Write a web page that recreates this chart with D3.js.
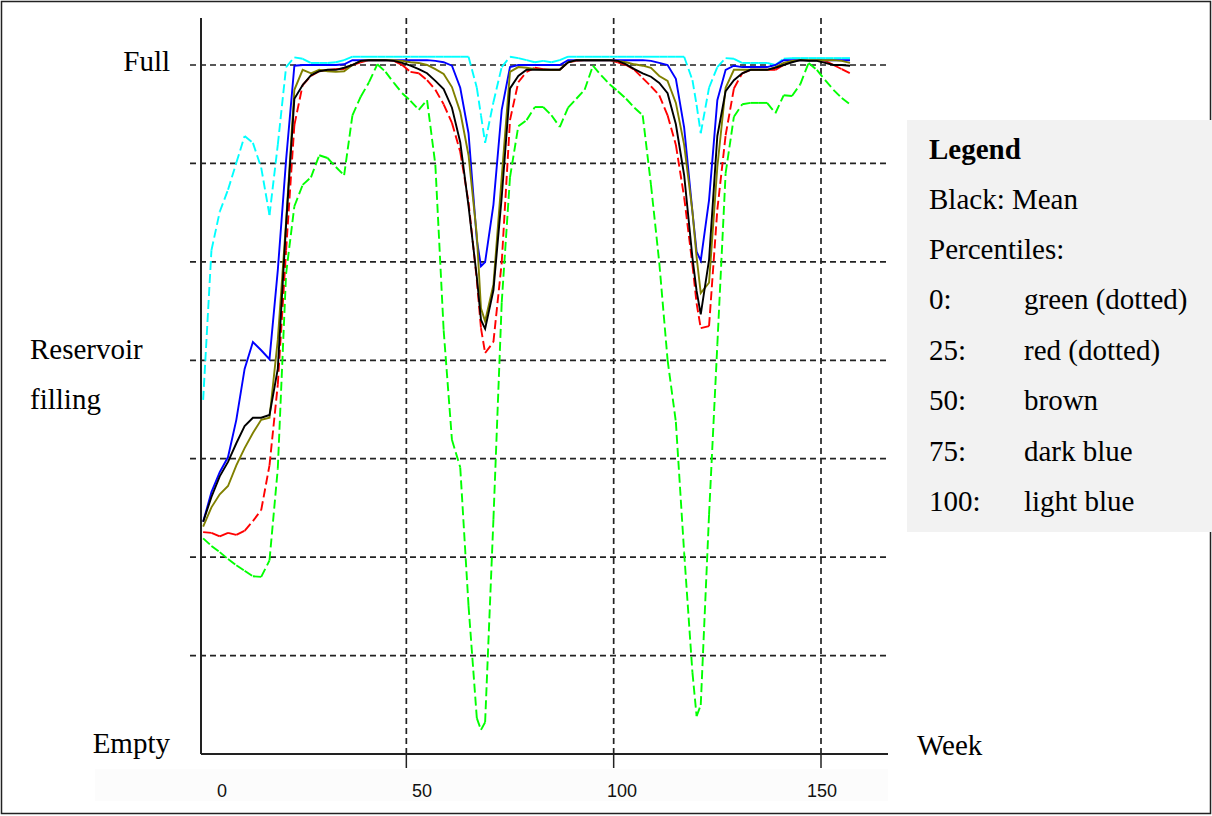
<!DOCTYPE html>
<html>
<head>
<meta charset="utf-8">
<script src="https://cdn.jsdelivr.net/npm/d3@7"></script>
<style>
  body { margin: 0; background: #fff; }
  svg { display: block; }
  .serif { font-family: "Liberation Serif", "Times New Roman", serif; font-size: 29px; fill: #000; }
  .tick-label { font-family: "Liberation Sans", Arial, sans-serif; font-size: 18px; fill: #111; }
</style>
</head>
<body>
<svg id="chart"></svg>
<script>
// weeks sampled every second week (plus the two dip bottoms)
const weeks = [1,3,5,7,9,11,13,15,17,19,21,23,25,27,29,31,33,35,37,39,41,43,45,47,49,51,53,55,57,59,61,63,65,
  67,68,69,71,73,75,77,79,81,83,85,87,89,91,93,95,97,99,101,103,105,107,109,111,113,115,117,119,120,
  121,123,125,127,129,131,133,135,137,139,141,143,145,147,149,151,153,155,157];

// reservoir filling in % (0 = empty, 100 = full)
const meanFill = [33.7,37.3,40.3,42.4,45.1,47.6,48.8,48.8,49.2,55.9,76.8,95.1,97.1,98.5,99.1,99.3,99.3,99.6,100,100.6,100.7,100.7,100.7,100.6,100.3,99.9,99.4,98.8,97.7,96.5,93.8,88.8,79.5,
  69.2,63.0,61.7,67.3,80.8,96.6,98.4,99.3,99.3,99.3,99.3,99.3,100.4,100.7,100.7,100.7,100.7,100.7,100.6,100.1,99.4,98.8,98.3,97.4,95.9,91.4,84.0,72.0,67.2,
  63.8,71.7,89.7,96.2,97.8,98.8,99.3,99.3,99.3,99.6,100,100.4,100.7,100.6,100.6,100.3,100,100,99.9];

const p0 = [31.3,30.2,29.3,28.3,27.4,26.6,25.8,25.7,28.1,41.4,69.7,79.5,82.6,83.7,86.9,86.5,85.2,84.0,92.7,95.4,97.5,100.1,99.0,97.4,95.9,94.8,93.5,94.9,85.5,61.5,45.6,41.6,21.5,
  5.2,3.5,4.6,34.0,65.5,83.7,91.1,92.0,93.9,93.9,92.7,91.0,93.8,95.1,96.4,99.9,98.5,97.2,96.2,95.1,93.8,92.7,82.6,71.3,57.2,48.2,29.2,11.8,5.5,
  7.1,34.7,59.4,84.3,92.5,94.3,94.5,94.5,94.5,93.0,95.6,95.5,97.2,100.3,99.3,97.8,96.4,95.2,94.3];

const p25 = [32.2,32.1,31.6,32.1,31.8,32.4,33.8,35.4,41.9,53.6,73.1,91.3,97.1,98.4,99.1,99.3,99.4,99.4,100,100.4,100.7,100.7,100.7,100.6,100,99.0,98.8,97.8,96.4,94.3,91.6,87.4,80.1,
  68.8,61.8,58.2,59.8,71.3,92.0,97.5,99.0,99.6,99.4,99.3,99.3,100.4,100.6,100.7,100.7,100.7,100.7,100.4,100,99.3,98.1,96.9,95.6,92.7,88.4,80.8,71.0,65.4,
  61.8,62.1,79.0,89.8,96.6,98.8,99.3,99.3,99.3,99.3,100,100.6,100.7,100.7,100.7,100.6,100,99.4,98.8];

const p50 = [33.0,35.8,37.7,38.9,41.9,44.4,46.6,48.5,48.8,60.1,77.2,96.4,99.3,98.8,99.3,99.1,99.0,99.1,100,100.6,100.7,100.7,100.7,100.7,100.6,100.4,100.3,100,99.4,98.7,96.8,93.2,86.9,
  75.3,64.7,62.8,68.1,83.7,99.0,99.7,99.6,99.4,99.3,99.3,99.3,100.4,100.7,100.7,100.7,100.7,100.7,100.6,100.4,100.1,99.9,99.6,98.4,97.7,94.5,88.4,78.7,72.1,
  66.9,68.4,85.2,96.7,99.3,99.3,99.3,99.3,99.3,99.7,100.3,100.6,100.7,100.7,100.7,100.7,100.7,100.6,100.3];

const p75 = [33.7,38.0,40.9,43.1,48.5,55.9,59.8,58.6,57.3,70.2,86.2,99.9,100,100,100,100,100,100.1,100.7,100.7,100.7,100.7,100.7,100.7,100.7,100.7,100.7,100.7,100.6,100.4,99.9,96.7,90.1,
  74.6,70.8,71.4,79.7,93.5,99.7,100,100,100,100,100,100,100.7,100.7,100.7,100.7,100.7,100.7,100.7,100.7,100.7,100.7,100.6,100.3,100,98.0,90.9,78.7,72.9,
  71.6,80.4,94.9,99.3,99.9,99.7,99.7,99.7,99.7,100,100.7,100.7,100.7,100.7,100.7,100.7,100.7,100.7,100.7];

const p100 = [51.4,73.1,78.7,81.9,85.8,89.7,88.7,85.1,78.2,88.4,99.7,101.1,100.9,100.3,100.3,100.3,100.4,100.7,101.2,101.2,101.2,101.2,101.2,101.2,101.2,101.2,101.2,101.2,101.2,101.2,101.2,101.2,101.2,
  96.7,92.7,88.7,94.6,99.7,101.2,101.0,100.7,100.4,100.6,100.4,100.7,101.2,101.2,101.2,101.2,101.2,101.2,101.2,101.2,101.2,101.2,101.2,101.2,101.2,101.2,101.2,97.8,94.2,
  90.1,96.7,99.7,101.0,100.9,100.3,100.3,100.3,100.3,100.0,100.9,101.0,101.0,101.0,101.0,101.0,101.0,101.0,101.0];

const xTicks = [0, 50, 100, 150];
const gridCount = 7; // horizontal grid divisions between Empty and Full

const legendTitle = "Legend";
const legendMean = "Black: Mean";
const legendSub = "Percentiles:";
const legendKeys = ["0:", "25:", "50:", "75:", "100:"];
const legendNames = ["green (dotted)", "red (dotted)", "brown", "dark blue", "light blue"];

// drawing order: dotted ones first, mean last
const series = [
  { values: p0, color: "#00ff00", dashed: true },
  { values: p100, color: "#00ffff", dashed: true },
  { values: p25, color: "#ff0000", dashed: true },
  { values: p75, color: "#0000ff", dashed: false },
  { values: p50, color: "#808000", dashed: false },
  { values: meanFill, color: "#000000", dashed: false }
];

const width = 1212, height = 816;
const axisLeft = 201, axisTop = 18, plotRight = 888;

const svg = d3.select("#chart").attr("width", width).attr("height", height);

const x = d3.scaleLinear().domain([0, 150]).range([199, 821]);
const y = d3.scaleLinear().domain([0, 100]).range([754, 65]);
// the week numbers sit in a separate strip, slightly shifted
const xLabel = d3.scaleLinear().domain([0, 150]).range([222, 822]);

// outer frame
svg.append("rect")
  .attr("x", 1.5).attr("y", 1.5)
  .attr("width", width - 3).attr("height", height - 4)
  .attr("fill", "none").attr("stroke", "#222").attr("stroke-width", 1.5);

// strip behind the week numbers
svg.append("rect")
  .attr("x", 95).attr("y", 769).attr("width", plotRight - 95).attr("height", 32)
  .attr("fill", "#fcfcfc");

// horizontal grid
const gridVals = d3.range(1, gridCount + 1).map(i => i * 100 / gridCount);
svg.append("g").selectAll("line")
  .data(gridVals)
  .join("line")
  .attr("x1", 190).attr("x2", plotRight)
  .attr("y1", d => y(d)).attr("y2", d => y(d))
  .attr("stroke", "#222").attr("stroke-width", 1.7)
  .attr("stroke-dasharray", "6,4");

// vertical grid + bottom ticks
const vGrid = svg.append("g");
vGrid.selectAll("line.v")
  .data(xTicks.slice(1))
  .join("line")
  .attr("class", "v")
  .attr("x1", d => x(d)).attr("x2", d => x(d))
  .attr("y1", axisTop).attr("y2", y(0))
  .attr("stroke", "#222").attr("stroke-width", 1.7)
  .attr("stroke-dasharray", "6,4");
vGrid.selectAll("line.t")
  .data(xTicks.slice(1))
  .join("line")
  .attr("class", "t")
  .attr("x1", d => x(d)).attr("x2", d => x(d))
  .attr("y1", y(0)).attr("y2", y(0) + 14)
  .attr("stroke", "#222").attr("stroke-width", 1.5);

// series
const line = d3.line()
  .x((d, i) => x(weeks[i]))
  .y(d => y(d));

series.forEach(s => {
  if (!s.dashed) {
    svg.append("path")
      .datum(s.values)
      .attr("d", line)
      .attr("fill", "none")
      .attr("stroke", s.color)
      .attr("stroke-width", 1.9);
  } else {
    // each weekly step restarts the dash pattern, like the original plot
    const pts = s.values.map((v, i) => [x(weeks[i]), y(v)]);
    svg.append("g").selectAll("line")
      .data(d3.pairs(pts))
      .join("line")
      .attr("x1", d => d[0][0]).attr("y1", d => d[0][1])
      .attr("x2", d => d[1][0]).attr("y2", d => d[1][1])
      .attr("stroke", s.color)
      .attr("stroke-width", 1.9)
      .attr("stroke-dasharray", "9,4");
  }
});

// axes lines
svg.append("line")
  .attr("x1", axisLeft).attr("x2", axisLeft)
  .attr("y1", axisTop).attr("y2", y(0))
  .attr("stroke", "#222").attr("stroke-width", 2);
svg.append("line")
  .attr("x1", axisLeft).attr("x2", plotRight)
  .attr("y1", y(0)).attr("y2", y(0))
  .attr("stroke", "#222").attr("stroke-width", 2);

// week numbers
svg.append("g").selectAll("text")
  .data(xTicks)
  .join("text")
  .attr("class", "tick-label")
  .attr("x", d => xLabel(d))
  .attr("y", 797)
  .attr("text-anchor", "middle")
  .text(d => d);

// axis words
svg.append("text").attr("class", "serif").attr("x", 170).attr("y", y(100) + 6)
  .attr("text-anchor", "end").text("Full");
svg.append("text").attr("class", "serif").attr("x", 170).attr("y", y(0) - 1)
  .attr("text-anchor", "end").text("Empty");
svg.append("text").attr("class", "serif").attr("x", 30).attr("y", 359).text("Reservoir");
svg.append("text").attr("class", "serif").attr("x", 30).attr("y", 409).text("filling");
svg.append("text").attr("class", "serif").attr("x", 917).attr("y", 755).text("Week");

// legend
const legend = svg.append("g").attr("transform", "translate(907,120)");
legend.append("rect")
  .attr("width", width - 907).attr("height", 412)
  .attr("fill", "#f2f2f2");
legend.append("text").attr("class", "serif").attr("x", 22).attr("y", 39)
  .attr("font-weight", "bold").text(legendTitle);
legend.append("text").attr("class", "serif").attr("x", 22).attr("y", 89).text(legendMean);
legend.append("text").attr("class", "serif").attr("x", 22).attr("y", 139).text(legendSub);
const rows = legend.selectAll("g.row")
  .data(legendKeys)
  .join("g")
  .attr("class", "row")
  .attr("transform", (d, i) => `translate(0,${189 + i * 50.5})`);
rows.append("text").attr("class", "serif").attr("x", 22).text(d => d);
rows.append("text").attr("class", "serif").attr("x", 117).text((d, i) => legendNames[i]);
</script>
</body>
</html>
